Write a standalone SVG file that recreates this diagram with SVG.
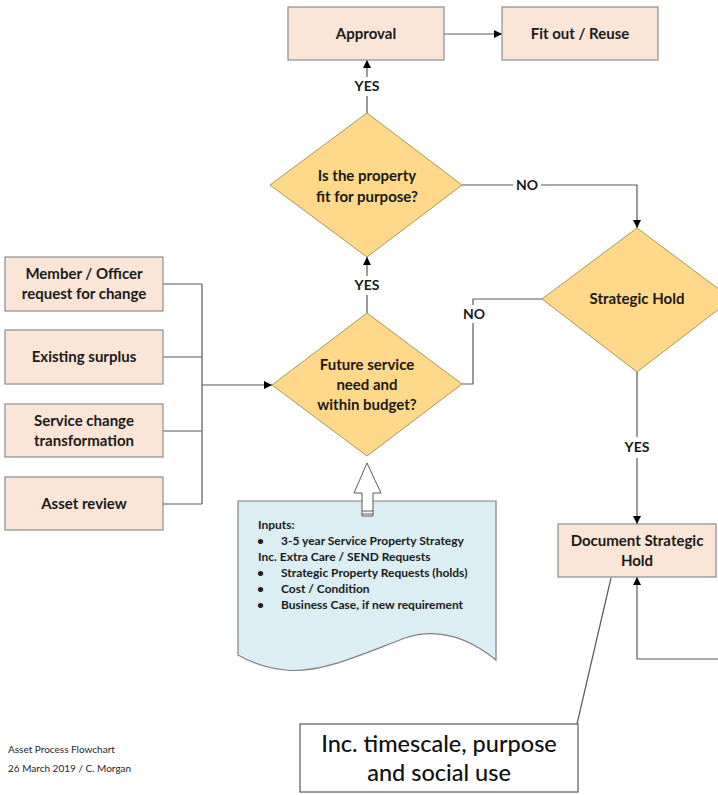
<svg xmlns="http://www.w3.org/2000/svg" width="718" height="795" viewBox="0 0 718 795">
<style>
.box{fill:#FBE5D6;stroke:#8C8C8C;stroke-width:1.2}
.dia{fill:#FFD88A;stroke:#A89660;stroke-width:1}
.doc{fill:#DBEEF4;stroke:#7F7F7F;stroke-width:1.2}
.t{font-family:Lato,"Liberation Sans",sans-serif;font-weight:700;font-size:15px;fill:#1a1a1a;text-anchor:middle}
.lbl{font-family:Lato,"Liberation Sans",sans-serif;font-weight:700;font-size:14px;fill:#1a1a1a;text-anchor:middle}
.dt{font-family:Lato,"Liberation Sans",sans-serif;font-weight:700;font-size:12px;fill:#1a1a1a}
.c{fill:none;stroke:#595959;stroke-width:1.2}
.ft{font-family:Lato,"Liberation Sans",sans-serif;font-size:10px;fill:#262626}
.co{font-family:Lato,"Liberation Sans",sans-serif;font-size:23.5px;font-weight:500;fill:#111;text-anchor:middle}
</style>
<defs>
<marker id="ah" viewBox="0 0 10 10" refX="10" refY="5" markerWidth="8" markerHeight="8" markerUnits="userSpaceOnUse" orient="auto">
<path d="M0,0 L10,5 L0,10 Z" fill="#000"/>
</marker>
</defs>
<rect width="718" height="795" fill="#fff"/>

<g id="connectors">
<path class="c" d="M444,34 H502" marker-end="url(#ah)"/>
<path class="c" d="M367,113 V96 M367,77 V60" marker-end="url(#ah)"/>
<path class="c" d="M367,313 V295 M367,276 V257" marker-end="url(#ah)"/>
<path class="c" d="M462,185 H513 M541,185 H637 V228" marker-end="url(#ah)"/>
<path class="c" d="M542,299 H473 V305 M473,323 V384 H462"/>
<path class="c" d="M163,284 H202 M163,357 H202 M163,431 H202 M163,504 H202 M202,284 V504"/>
<path class="c" d="M202,385 H272" marker-end="url(#ah)"/>
<path class="c" d="M637,372 V437 M637,458 V524" marker-end="url(#ah)"/>
<path class="c" d="M718,659 H637 V577" marker-end="url(#ah)"/>
<path class="c" d="M611,578 L577,724"/>
</g>

<g id="approval"><rect class="box" x="288" y="7" width="156" height="53"/><text class="t" x="366" y="39">Approval</text></g>
<g id="fitout"><rect class="box" x="502" y="7" width="156" height="53"/><text class="t" x="580" y="39">Fit out / Reuse</text></g>

<g id="fit-for-purpose"><path class="dia" d="M367,113 L462,185 L367,257 L270,185 Z"/>
<text class="t" x="367" y="181">Is the property</text><text class="t" x="367" y="202">fit for purpose?</text></g>

<g id="strategic-hold"><path class="dia" d="M637,228 L732,299 L637,372 L542,299 Z"/>
<text class="t" x="637" y="304">Strategic Hold</text></g>

<g id="future-service"><path class="dia" d="M367,313 L462,384 L367,456 L272,385 Z"/>
<text class="t" x="367" y="370">Future service</text><text class="t" x="367" y="390">need and</text><text class="t" x="367" y="410">within budget?</text></g>

<g id="member"><rect class="box" x="5" y="257" width="158" height="54"/><text class="t" x="84" y="279">Member / Officer</text><text class="t" x="84" y="299">request for change</text></g>
<g id="surplus"><rect class="box" x="5" y="330" width="158" height="54"/><text class="t" x="84" y="362">Existing surplus</text></g>
<g id="service-change"><rect class="box" x="5" y="404" width="158" height="53"/><text class="t" x="84" y="426">Service change</text><text class="t" x="84" y="446">transformation</text></g>
<g id="asset-review"><rect class="box" x="5" y="477" width="158" height="53"/><text class="t" x="84" y="509">Asset review</text></g>

<g id="doc-hold"><rect class="box" x="558" y="524" width="158" height="53"/><text class="t" x="637" y="546">Document Strategic</text><text class="t" x="637" y="566">Hold</text></g>

<g id="labels">
<text class="lbl" x="367" y="91">YES</text>
<text class="lbl" x="367" y="290">YES</text>
<text class="lbl" x="527" y="190">NO</text>
<text class="lbl" x="474" y="319">NO</text>
<text class="lbl" x="637" y="452">YES</text>
</g>

<g id="inputs">
<path class="doc" d="M238,501 H496 V660 C465,635 435,628 405,638 C360,655 320,674 285,670 C265,668 250,662 238,655 Z"/>
<path d="M367,463 L381,493 L373,493 L373,516 L362,516 L362,493 L354,493 Z" fill="#fff" stroke="#595959" stroke-width="1"/>
<path d="M362,511 H373 M362,514 H373" stroke="#595959" stroke-width="1"/>
<text class="dt" x="258" y="529">Inputs:</text>
<text class="dt" x="257" y="545">•</text><text class="dt" x="281" y="545">3-5 year Service Property Strategy</text>
<text class="dt" x="258" y="561">Inc. Extra Care / SEND Requests</text>
<text class="dt" x="257" y="577">•</text><text class="dt" x="281" y="577">Strategic Property Requests (holds)</text>
<text class="dt" x="257" y="593">•</text><text class="dt" x="281" y="593">Cost / Condition</text>
<text class="dt" x="257" y="609">•</text><text class="dt" x="281" y="609">Business Case, if new requirement</text>
</g>

<g id="callout"><rect x="300" y="724" width="278" height="68" fill="#fff" stroke="#595959" stroke-width="1.2"/>
<text class="co" x="439" y="752">Inc. timescale, purpose</text>
<text class="co" x="439" y="781">and social use</text></g>

<g id="footer">
<text class="ft" x="8" y="753">Asset Process Flowchart</text>
<text class="ft" x="8" y="772">26 March 2019 / C. Morgan</text>
</g>
</svg>
